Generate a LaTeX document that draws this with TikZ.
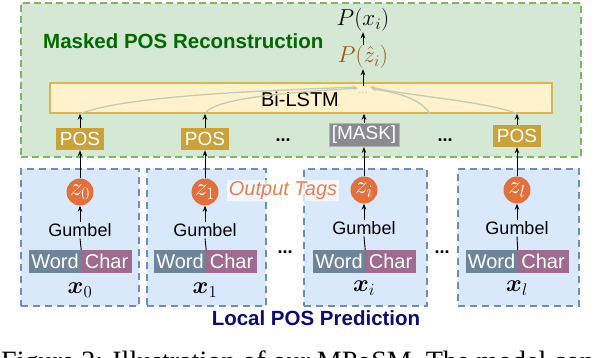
\RequirePackage{fix-cm}
\documentclass[tikz,border=0pt]{standalone}
\usepackage{fontspec}
\setmainfont{Liberation Sans}
\newfontfamily\capfont{Liberation Serif}
\usepackage{bm}
\usetikzlibrary{arrows.meta}
\definecolor{recfill}{HTML}{D5E8D4}
\definecolor{recborder}{HTML}{82B366}
\definecolor{rectitle}{HTML}{006A00}
\definecolor{locfill}{HTML}{DAE8FC}
\definecolor{locborder}{HTML}{6C8EBF}
\definecolor{loctitle}{HTML}{0D0D6E}
\definecolor{lstmfill}{HTML}{FFF2CC}
\definecolor{lstmborder}{HTML}{D6B656}
\definecolor{posfill}{HTML}{C9A23B}
\definecolor{maskfill}{HTML}{8C8A91}
\definecolor{maskborder}{HTML}{B3B1B6}
\definecolor{zfill}{HTML}{E2703C}
\definecolor{wordfill}{HTML}{6E8599}
\definecolor{charfill}{HTML}{9E6A8E}
\definecolor{flowc}{HTML}{C3CCB4}
\definecolor{tagc}{HTML}{E8804F}
\definecolor{zhatc}{HTML}{9C5410}
\newcommand\myfs[1]{\fontsize{#1}{#1}\selectfont}
\tikzset{
  reconbox/.style={draw=recborder, fill=recfill, line width=1.8pt, dash pattern=on 7pt off 4pt, minimum width=560pt, minimum height=154pt},
  localbox/.style={draw=locborder, fill=locfill, line width=1.8pt, dash pattern=on 7pt off 5pt, minimum height=137pt},
  lstmbox/.style={draw=lstmborder, fill=lstmfill, line width=1.5pt, minimum width=502pt, minimum height=30pt},
  posbox/.style={fill=posfill, text=white, minimum width=48pt, minimum height=22pt, inner sep=0pt, font=\myfs{19}},
  maskbox/.style={posbox, fill=maskfill, draw=maskborder, line width=1pt, minimum width=70pt, minimum height=23pt},
  zc/.style={circle, fill=zfill, text=white, minimum size=27pt, inner sep=0pt, font=\myfs{25}},
  wbox/.style={fill=wordfill, text=white, minimum width=52pt, minimum height=23pt, inner sep=0pt, font=\myfs{20}},
  cbox/.style={wbox, fill=charfill, minimum width=51pt},
  gumb/.style={font=\myfs{18}, inner sep=1.5pt},
  xlab/.style={font=\myfs{24}, inner sep=0pt},
  dots/.style={font=\myfs{18}\bfseries, inner sep=0pt},
  arr/.style={-{Stealth[length=6pt,width=4.5pt]}, line width=0.9pt},
  plainline/.style={line width=0.9pt},
  flow/.style={draw=flowc, line width=1.3pt},
  flowarr/.style={flow, -{Stealth[length=4pt,width=4pt]}},
}
\begin{document}
\begin{tikzpicture}[x=1pt,y=-1pt]
\useasboundingbox (0,0) rectangle (600,358);
\clip (0,0) rectangle (600,358);
\fill[white] (0,0) rectangle (600,358);

% upper region
\node[reconbox] (recon) at (301,80) {};
\node[font=\myfs{20.5}\bfseries, text=rectitle, anchor=west, inner sep=0pt] (rtitle) at (43,41) {Masked POS Reconstruction};
\node[lstmbox] (lstm) at (301,98) {};
\node[font=\myfs{20}, inner sep=0pt] (lstmlabel) at (300,99) {Bi-LSTM};

\node[posbox] (pos0) at (80,139) {POS};
\node[posbox] (pos1) at (205,139) {POS};
\node[maskbox] (mask) at (364,135) {[MASK]};
\node[posbox] (posl) at (517,136) {POS};
\node[dots] (d1) at (283,140) {...};
\node[dots] (d2) at (445,140) {...};

\node[inner sep=0.5pt, font=\myfs{23}] (px) at (363,20) {$P(x_i)$};
\node[inner sep=0.5pt, font=\myfs{23}, text=zhatc] (pzh) at (363,57) {$P(\hat{z}_i)$};
\coordinate (conv) at (363,86);

% flow curves inside the Bi-LSTM
\draw[flowarr] (pos0.north |- lstm.south) .. controls (130,94) and (290,90) .. (356,87);
\draw[flowarr] (pos1.north |- lstm.south) .. controls (214,97) and (300,92) .. (358,88);
\draw[flowarr] (posl.north |- lstm.south) .. controls (490,102) and (410,96) .. (370,87);
\draw[flowarr] (lstm.south -| 430,0) .. controls (420,98) and (395,92) .. (372,89);
\node[text=flowc, font=\myfs{12}, inner sep=0pt] (fdots) at (363,93) {...};

\draw[arr] (pos0.north) -- (pos0.north |- lstm.south);
\draw[arr] (pos1.north) -- (pos1.north |- lstm.south);
\draw[arr] (mask.north) -- (mask.north |- lstm.south);
\draw[arr] (posl.north) -- (posl.north |- lstm.south);
\draw[arr] (conv) -- (pzh.south);
\draw[arr] (pzh.north) -- (px.south);

% lower boxes
\node[localbox, minimum width=118pt] (b0) at (80,237.5) {};
\node[localbox, minimum width=119pt] (b1) at (206.5,237.5) {};
\node[localbox, minimum width=123pt] (bi) at (365.5,237.5) {};
\node[localbox, minimum width=121pt] (bl) at (518.5,237.5) {};
\node[dots] (d3) at (285,252) {...};
\node[dots] (d4) at (442,252) {...};

\node[font=\myfs{20.5}\bfseries, text=loctitle, inner sep=0pt] (ltitle) at (316,318) {Local POS Prediction};

% column 0
\node[zc] (z0) at (80,192) {$z_0$};
\node[gumb] (g0) at (80,230) {Gumbel};
\node[wbox] (w0) at (55,261.5) {Word};
\node[cbox] (c0) at (106.5,261.5) {Char};
\node[xlab] (x0) at (80,290) {$\bm{x}_0$};
% column 1
\node[zc] (z1) at (205,192) {$z_1$};
\node[gumb] (g1) at (205,230) {Gumbel};
\node[wbox] (w1) at (180,261.5) {Word};
\node[cbox] (c1) at (231.5,261.5) {Char};
\node[xlab] (x1) at (205,290) {$\bm{x}_1$};
% column i
\node[zc] (zi) at (364,190) {$z_i$};
\node[gumb] (gi) at (364,228) {Gumbel};
\node[wbox] (wi) at (339,261.5) {Word};
\node[cbox] (ci) at (390.5,261.5) {Char};
\node[xlab] (xi) at (364,288) {$\bm{x}_i$};
% column l
\node[zc] (zl) at (517,190) {$z_l$};
\node[gumb] (gl) at (517,228) {Gumbel};
\node[wbox] (wl) at (491.5,261.5) {Word};
\node[cbox] (cl) at (543,261.5) {Char};
\node[xlab] (xl) at (517,288) {$\bm{x}_l$};

\node[fill=white, fill opacity=0.7, text opacity=1, text=tagc, font=\myfs{20}\itshape, inner sep=1.5pt, minimum height=19pt] (tags) at (283,190.5) {Output Tags};

\foreach \c in {0,1,i,l}{
  \draw[plainline] (w\c.north east) -- (g\c.south);
  \draw[arr] (g\c.north) -- (z\c.south);
}
\draw[arr] (z0.north) -- (pos0.south);
\draw[arr] (z1.north) -- (pos1.south);
\draw[arr] (zi.north) -- (mask.south);
\draw[arr] (zl.north) -- (posl.south);

% caption (cut off by the picture edge)
\node[anchor=base west, inner sep=0pt, font=\capfont\myfs{28}] (cap) at (1,370) {Figure 2: Illustration of our MPoSM. The model con};
\end{tikzpicture}
\end{document}
